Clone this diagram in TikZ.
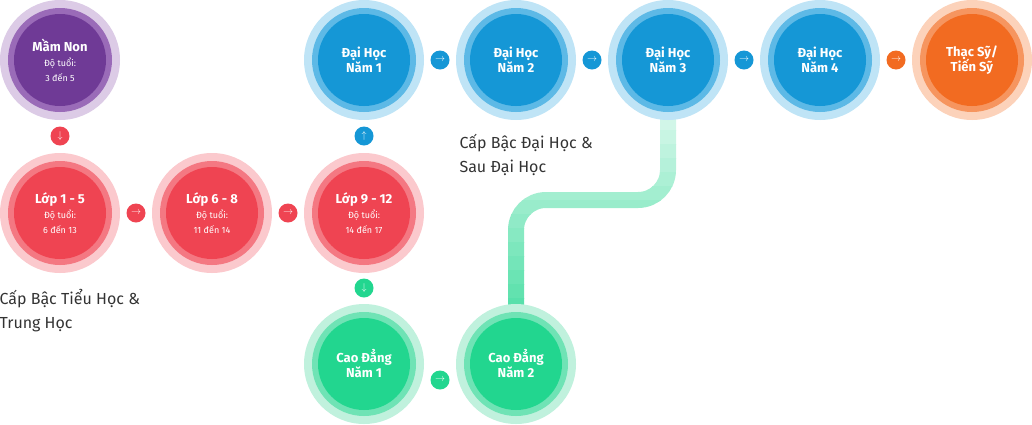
\documentclass[tikz,border=0pt]{standalone}
\usepackage{fontspec}
\setmainfont{Fira Sans}
\definecolor{purpc}{HTML}{6F3A96}
\definecolor{purpL}{HTML}{DCCBE6}
\definecolor{purpM}{HTML}{9A6BB8}
\definecolor{redc}{HTML}{EF4452}
\definecolor{redL}{HTML}{FBC9CD}
\definecolor{redM}{HTML}{F47882}
\definecolor{bluec}{HTML}{1597D6}
\definecolor{blueL}{HTML}{BFE4F6}
\definecolor{blueM}{HTML}{5DB9E6}
\definecolor{orac}{HTML}{F26B21}
\definecolor{oraL}{HTML}{FCD2BA}
\definecolor{oraM}{HTML}{F6955F}
\definecolor{grnc}{HTML}{22D68F}
\definecolor{grnL}{HTML}{C0F1DD}
\definecolor{grnM}{HTML}{6FE3B5}
\definecolor{txt}{HTML}{333333}
\tikzset{
  stage/.style={circle, minimum size=92pt, inner sep=0pt, text=white, align=center, font=\fontsize{13}{18}\selectfont},
  hop/.style={circle, minimum size=19pt, inner sep=0pt, fill=#1, text=white, font=\bfseries\fontsize{10}{10}\selectfont},
  caption/.style={anchor=north west, align=left, text=txt, font=\fontsize{16}{24}\selectfont}
}
% circle with three rings
\newcommand{\stagenode}[5]{%
  \fill[#3L] (#2) circle (60pt);
  \fill[#3M] (#2) circle (52pt);
  \node[stage, fill=#3c] (#1) at (#2) {#4\\[-3pt]#5};
}
\newcommand{\roadpath}{(668,60) -- (668,200) -- (516,200) -- (516,364)}
\begin{document}
\begin{tikzpicture}[x=1pt, y=-1pt]
    \useasboundingbox (0,0) rectangle (1032,424);

    % gradient connector
    \foreach \i in {0,...,23} {
      \pgfmathsetmacro{\p}{min(100,4+\i*4.2)}
      \begin{scope}
        \clip (480,60+\i*14) rectangle (700,60+\i*14+14.5);
        \draw[line width=16pt, rounded corners=30pt, color=grnc!\p!white] \roadpath;
      \end{scope}
    }

    % stages
    \stagenode{mamnon}{60,60}{purp}{\textbf{Mầm Non}}{\small Độ tuổi:\\[-3pt]\small 3 đến 5}
    \stagenode{lop1}{60,213}{red}{\textbf{Lớp 1 - 5}}{\small Độ tuổi:\\[-3pt]\small 6 đến 13}
    \stagenode{lop6}{212,213}{red}{\textbf{Lớp 6 - 8}}{\small Độ tuổi:\\[-3pt]\small 11 đến 14}
    \stagenode{lop9}{364,213}{red}{\textbf{Lớp 9 - 12}}{\small Độ tuổi:\\[-3pt]\small 14 đến 17}
    \stagenode{dh1}{364,60}{blue}{\textbf{Đại Học}}{\textbf{Năm 1}}
    \stagenode{dh2}{516,60}{blue}{\textbf{Đại Học}}{\textbf{Năm 2}}
    \stagenode{dh3}{668,60}{blue}{\textbf{Đại Học}}{\textbf{Năm 3}}
    \stagenode{dh4}{820,60}{blue}{\textbf{Đại Học}}{\textbf{Năm 4}}
    \stagenode{ths}{972,60}{ora}{\textbf{Thạc Sỹ/}}{\textbf{Tiến Sỹ}}
    \stagenode{cd1}{364,364}{grn}{\textbf{Cao Đẳng}}{\textbf{Năm 1}}
    \stagenode{cd2}{516,364}{grn}{\textbf{Cao Đẳng}}{\textbf{Năm 2}}

    % small arrow markers
    \node[hop=redc] (h1) at (60,136) {$\downarrow$};
    \node[hop=redc] (h2) at (136,213) {$\rightarrow$};
    \node[hop=redc] (h3) at (288,213) {$\rightarrow$};
    \node[hop=bluec] (h4) at (364,136) {$\uparrow$};
    \node[hop=grnc] (h5) at (364,288) {$\downarrow$};
    \node[hop=grnc] (h6) at (440,380) {$\rightarrow$};
    \node[hop=bluec] (h7) at (440,60) {$\rightarrow$};
    \node[hop=bluec] (h8) at (592,60) {$\rightarrow$};
    \node[hop=bluec] (h9) at (744,60) {$\rightarrow$};
    \node[hop=orac] (h10) at (896,60) {$\rightarrow$};

    % captions
    \node[caption] (cap1) at (-4,286) {Cấp Bậc Tiểu Học \&\\Trung Học};
    \node[caption] (cap2) at (456,131) {Cấp Bậc Đại Học \&\\Sau Đại Học};
\end{tikzpicture}
\end{document}
